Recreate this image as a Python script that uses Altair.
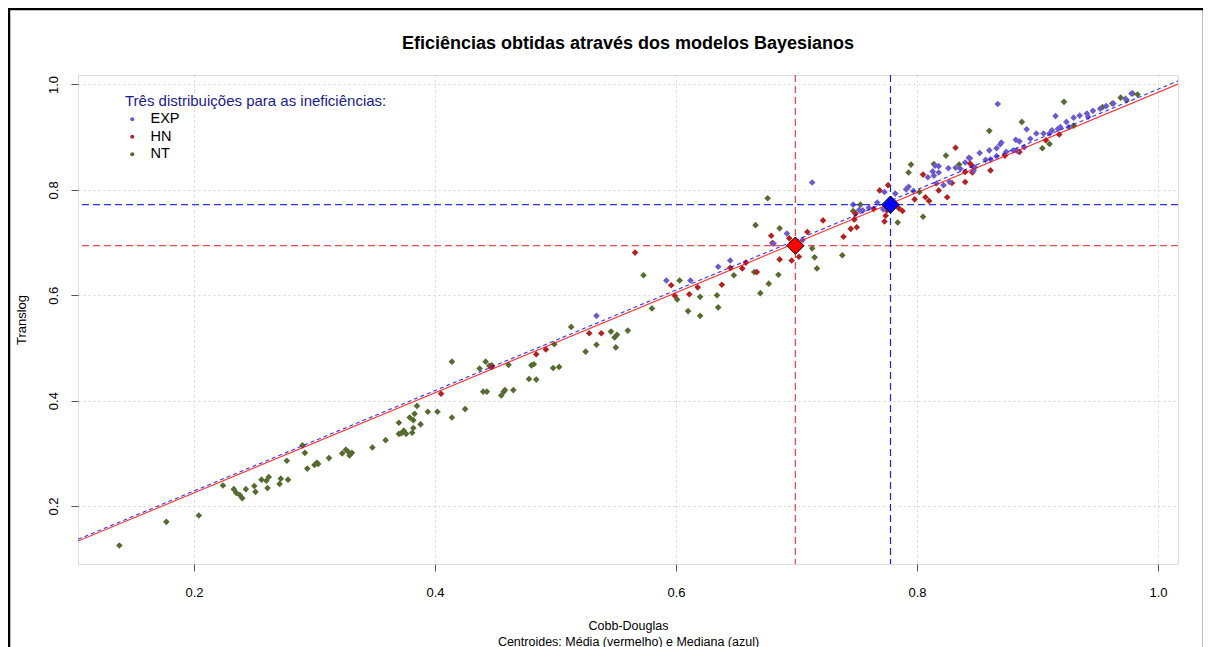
import altair as alt
import pandas as pd

# ---------------- data ----------------
series = ["EXP", "HN", "NT"]
series_colors = ["#6A5ACD", "#B22222", "#556B2F"]

nt_x = [0.138, 0.177, 0.204, 0.224, 0.233, 0.235, 0.238, 0.240, 0.243, 0.250, 0.251, 0.256, 0.260, 0.262, 0.261,
        0.271, 0.272, 0.278, 0.277, 0.290, 0.292, 0.294, 0.300, 0.302, 0.303, 0.312, 0.323, 0.326, 0.328, 0.329,
        0.331, 0.348, 0.359, 0.370, 0.370, 0.372, 0.374, 0.376, 0.379, 0.382, 0.383, 0.385, 0.381, 0.382, 0.388,
        0.394, 0.402, 0.414, 0.414, 0.425, 0.437, 0.442, 0.445, 0.447, 0.440, 0.443, 0.455, 0.457, 0.458, 0.461,
        0.465, 0.478, 0.484, 0.480, 0.482, 0.498, 0.503, 0.499, 0.513, 0.525, 0.534, 0.546, 0.549, 0.551, 0.550,
        0.560, 0.573, 0.580, 0.601, 0.603, 0.610, 0.620, 0.620, 0.634, 0.635, 0.648, 0.665, 0.666, 0.670, 0.677,
        0.676, 0.685, 0.686, 0.713, 0.715, 0.717, 0.738, 0.747, 0.753, 0.784, 0.793, 0.795, 0.802, 0.805, 0.814,
        0.824, 0.835, 0.860, 0.887, 0.922, 0.904, 0.910, 0.930, 0.954, 0.962, 0.969, 0.974, 0.979, 0.983]
nt_y = [0.125, 0.170, 0.182, 0.239, 0.232, 0.225, 0.221, 0.215, 0.232, 0.238, 0.227, 0.250, 0.248, 0.255, 0.234,
        0.242, 0.252, 0.250, 0.286, 0.315, 0.301, 0.271, 0.278, 0.282, 0.280, 0.291, 0.300, 0.307, 0.303, 0.296,
        0.301, 0.311, 0.325, 0.358, 0.337, 0.338, 0.343, 0.337, 0.368, 0.363, 0.375, 0.390, 0.339, 0.348, 0.355,
        0.379, 0.379, 0.474, 0.368, 0.384, 0.461, 0.474, 0.466, 0.467, 0.417, 0.417, 0.410, 0.417, 0.420, 0.468,
        0.420, 0.441, 0.440, 0.467, 0.469, 0.462, 0.464, 0.507, 0.540, 0.493, 0.506, 0.531, 0.520, 0.525, 0.501,
        0.533, 0.638, 0.575, 0.592, 0.628, 0.570, 0.597, 0.561, 0.600, 0.577, 0.638, 0.644, 0.733, 0.604, 0.622,
        0.784, 0.639, 0.727, 0.689, 0.672, 0.651, 0.676, 0.760, 0.772, 0.738, 0.833, 0.848, 0.796, 0.749, 0.849,
        0.865, 0.848, 0.912, 0.929, 0.967, 0.879, 0.887, 0.922, 0.957, 0.964, 0.975, 0.970, 0.983, 0.981]

hn_x = [0.405, 0.447, 0.484, 0.492, 0.528, 0.538, 0.566, 0.596, 0.599, 0.611, 0.618, 0.638, 0.645, 0.655, 0.658,
        0.667, 0.679, 0.680, 0.686, 0.694, 0.696, 0.702, 0.709, 0.722, 0.739, 0.745, 0.750, 0.748, 0.749, 0.769,
        0.776, 0.774, 0.773, 0.775, 0.785, 0.788, 0.798, 0.805, 0.807, 0.810, 0.818, 0.825, 0.832, 0.764, 0.829,
        0.840, 0.846, 0.844, 0.840, 0.846, 0.861, 0.873, 0.885, 0.907, 0.918]
hn_y = [0.413, 0.464, 0.488, 0.497, 0.528, 0.528, 0.681, 0.619, 0.599, 0.602, 0.615, 0.620, 0.652, 0.651, 0.662,
        0.644, 0.713, 0.699, 0.668, 0.708, 0.666, 0.673, 0.720, 0.742, 0.711, 0.726, 0.729, 0.744, 0.755, 0.799,
        0.809, 0.751, 0.740, 0.761, 0.765, 0.760, 0.782, 0.829, 0.786, 0.779, 0.799, 0.786, 0.880, 0.764, 0.813,
        0.834, 0.845, 0.850, 0.815, 0.833, 0.837, 0.865, 0.872, 0.894, 0.905]

exp_x = [0.534, 0.592, 0.612, 0.635, 0.645, 0.681, 0.692, 0.705, 0.713, 0.747, 0.752, 0.760, 0.767, 0.772, 0.782,
         0.791, 0.793, 0.797, 0.809, 0.813, 0.814, 0.818, 0.818, 0.822, 0.827, 0.826, 0.832, 0.867, 0.915, 0.891,
         0.882, 0.870, 0.869, 0.866, 0.860, 0.852, 0.844, 0.840, 0.848, 0.857, 0.866, 0.874, 0.883, 0.889, 0.894,
         0.899, 0.905, 0.912, 0.917, 0.924, 0.930, 0.935, 0.941, 0.946, 0.952, 0.957, 0.963, 0.973, 0.978, 0.885,
         0.880, 0.926, 0.910, 0.919, 0.942, 0.861, 0.847, 0.836, 0.755, 0.773, 0.816, 0.815, 0.843]
exp_y = [0.561, 0.628, 0.628, 0.654, 0.666, 0.698, 0.717, 0.705, 0.814, 0.772, 0.762, 0.766, 0.776, 0.763, 0.793,
         0.801, 0.806, 0.798, 0.824, 0.835, 0.827, 0.833, 0.845, 0.809, 0.815, 0.841, 0.842, 0.963, 0.940, 0.915,
         0.895, 0.890, 0.886, 0.879, 0.875, 0.870, 0.860, 0.852, 0.843, 0.857, 0.864, 0.872, 0.874, 0.881, 0.897,
         0.907, 0.907, 0.913, 0.916, 0.929, 0.937, 0.941, 0.945, 0.950, 0.954, 0.959, 0.964, 0.973, 0.983, 0.892,
         0.875, 0.919, 0.907, 0.919, 0.939, 0.858, 0.837, 0.840, 0.761, 0.796, 0.812, 0.846, 0.861]

# centroids: mean (red) and median (blue)
cent_names = ["Média", "Mediana"]
cent_x = [0.699, 0.778]
cent_y = [0.694, 0.772]
cent_colors = ["#FF0000", "#0000FF"]

# fitted lines (end points across the plot range)
reg_x = [0.1037, 1.0166]
reg_red_y = [0.1335, 1.0008]
reg_blue_y = [0.1368, 1.0068]

X_DOMAIN = [0.1037, 1.0166]
Y_DOMAIN = [0.090, 1.018]
ticks = [0.2, 0.4, 0.6, 0.8, 1.0]

FONT = "Liberation Sans"

# ---------------- tables ----------------
pts = pd.concat([
    pd.DataFrame({"cd": nt_x, "tl": nt_y, "dist": "NT"}),
    pd.DataFrame({"cd": hn_x, "tl": hn_y, "dist": "HN"}),
    pd.DataFrame({"cd": exp_x, "tl": exp_y, "dist": "EXP"}),
], ignore_index=True)
cent = pd.DataFrame({"cd": cent_x, "tl": cent_y, "c": cent_names})
reg_red = pd.DataFrame({"cd": reg_x, "tl": reg_red_y})
reg_blue = pd.DataFrame({"cd": reg_x, "tl": reg_blue_y})

xs = alt.Scale(domain=X_DOMAIN, nice=False, zero=False)
ys = alt.Scale(domain=Y_DOMAIN, nice=False, zero=False)

x_axis = alt.Axis(values=ticks, format=".1f", grid=True, gridDash=[2, 3], gridColor="#d4d4d4",
                  domain=False, tickSize=7, tickColor="#555555", labelFontSize=13, labelColor="#000000",
                  labelPadding=15, labelFont=FONT,
                  title=["Cobb-Douglas", "Centroides: Média (vermelho) e Mediana (azul)"],
                  titleFont=FONT, titleFontSize=12.5, titleFontWeight="normal", titleColor="#000000",
                  titlePadding=20, titleLineHeight=16)
y_axis = alt.Axis(values=ticks, format=".1f", grid=True, gridDash=[2, 3], gridColor="#d4d4d4",
                  domain=False, tickSize=7, tickColor="#555555", labelFontSize=13, labelColor="#000000",
                  labelAngle=270, labelAlign="center", labelBaseline="bottom", labelPadding=11, labelFont=FONT,
                  title="Translog", titleFont=FONT, titleFontSize=13, titleFontWeight="normal",
                  titleColor="#000000", titlePadding=19)

base_x = alt.X("cd:Q", scale=xs, axis=x_axis)
base_y = alt.Y("tl:Q", scale=ys, axis=y_axis)

points = alt.Chart(pts).mark_point(shape="diamond", filled=True, size=44, opacity=1).encode(
    x=base_x, y=base_y,
    color=alt.Color("dist:N", scale=alt.Scale(domain=series, range=series_colors),
                    legend=alt.Legend(orient="none", legendX=47, legendY=19, padding=0,
                                      title="Três distribuições para as ineficiências:",
                                      titleColor="#1B1B8C", titleFont=FONT, titleFontSize=15,
                                      titleFontWeight="normal", titlePadding=3, titleLimit=500,
                                      labelFont=FONT, labelFontSize=14.5, labelColor="#000000",
                                      labelOffset=11, labelLimit=200, symbolType="circle", symbolSize=16,
                                      symbolStrokeWidth=0, rowPadding=2.5)),
)

line_red = alt.Chart(reg_red).mark_line(color="#FF0000", strokeWidth=1.1, opacity=0.8, clip=True).encode(
    x=alt.X("cd:Q", scale=xs), y=alt.Y("tl:Q", scale=ys))
line_blue = alt.Chart(reg_blue).mark_line(color="#0000FF", strokeWidth=1.1, strokeDash=[4, 3], opacity=0.8,
                                          clip=True).encode(
    x=alt.X("cd:Q", scale=xs), y=alt.Y("tl:Q", scale=ys))

h_red = alt.Chart(pd.DataFrame({"tl": [cent_y[0]]})).mark_rule(color="#E02020", strokeDash=[7, 4],
                                                               strokeWidth=1).encode(y=alt.Y("tl:Q", scale=ys))
h_blue = alt.Chart(pd.DataFrame({"tl": [cent_y[1]]})).mark_rule(color="#3030F0", strokeDash=[7, 4],
                                                                strokeWidth=1.2).encode(y=alt.Y("tl:Q", scale=ys))
v_red = alt.Chart(pd.DataFrame({"cd": [cent_x[0]]})).mark_rule(color="#E02020", strokeDash=[7, 4],
                                                               strokeWidth=1).encode(x=alt.X("cd:Q", scale=xs))
v_blue = alt.Chart(pd.DataFrame({"cd": [cent_x[1]]})).mark_rule(color="#2020E0", strokeDash=[7, 4],
                                                                strokeWidth=1.2).encode(x=alt.X("cd:Q", scale=xs))

centroids = alt.Chart(cent).mark_point(shape="diamond", filled=True, size=300, stroke="#000000",
                                       strokeWidth=1, opacity=1).encode(
    x=alt.X("cd:Q", scale=xs), y=alt.Y("tl:Q", scale=ys),
    fill=alt.Fill("c:N", scale=alt.Scale(domain=cent_names, range=cent_colors), legend=None),
)

frame = alt.Chart(pd.DataFrame({"a": [0]})).mark_rect(fillOpacity=0, stroke="#000000", strokeWidth=2.5).encode(
    x=alt.value(-69), x2=alt.value(1126), y=alt.value(-66), y2=alt.value(640))

chart = alt.layer(
    points, line_red, line_blue, h_red, h_blue, v_red, v_blue, centroids, frame
).properties(
    width=1100, height=489,
    autosize=alt.AutoSizeParams(type="none"),
    padding={"left": 70, "top": 67, "right": 25, "bottom": 83},
    title=alt.Title("Eficiências obtidas através dos modelos Bayesianos", font=FONT, fontSize=18,
                    fontWeight="bold", color="#000000", anchor="middle", offset=-45),
).configure_view(
    stroke="#555555", strokeWidth=1.5
).configure(background="#FFFFFF")

chart.save("out.html", embed_options={"renderer": "svg", "actions": False})
